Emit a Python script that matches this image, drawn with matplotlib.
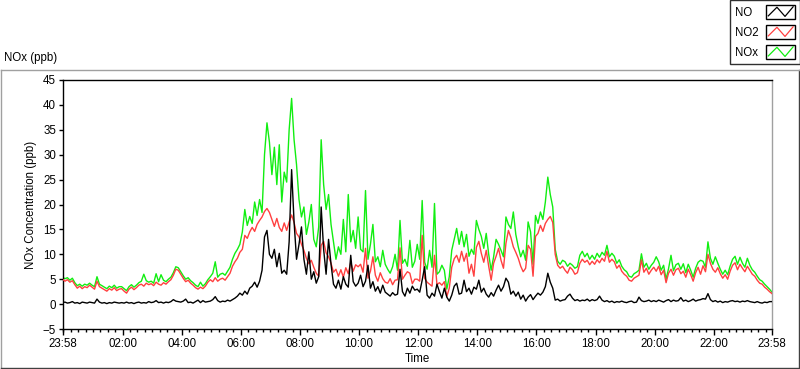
import numpy as np
import pandas as pd
import matplotlib
matplotlib.use("Agg")
import matplotlib.pyplot as plt
import matplotlib.dates as mdates
from matplotlib.lines import Line2D
from matplotlib.patches import Rectangle
from matplotlib.legend_handler import HandlerBase

plt.rcParams['font.family'] = ['Liberation Sans', 'DejaVu Sans']
plt.rcParams['font.size'] = 8.3

# ---------------- data (5-minute readings, starting 23:58) ----------------
start_time = "2020-01-01 23:58"
step = "5min"

no_ppb = [
    0.3, 0.4, 0.2, 0.3, 0.5, 0.2, 0.3, 0.1, 0.4, 0.3, 0.2, 0.4,
    0.3, 0.2, 1.0, 0.4, 0.2, 0.3, 0.1, 0.3, 0.2, 0.4, 0.3, 0.2,
    0.3, 0.2, 0.4, 0.2, 0.3, 0.1, 0.3, 0.4, 0.2, 0.3, 0.2, 0.5,
    0.3, 0.4, 0.7, 0.3, 0.4, 0.2, 0.4, 0.3, 0.5, 0.9, 0.6, 0.5,
    0.4, 0.6, 1.0, 0.3, 0.4, 0.2, 0.5, 0.8, 0.3, 0.7, 0.4, 0.5,
    0.6, 0.9, 1.5, 0.7, 0.4, 0.6, 0.5, 0.8, 0.6, 0.9, 1.2, 1.6,
    2.2, 1.8, 2.6, 2.0, 3.2, 3.6, 4.4, 3.4, 4.6, 6.8, 13.5, 14.8,
    10.0, 9.2, 11.0, 7.5, 10.2, 6.2, 6.8, 6.0, 12.5, 27.0, 16.5, 9.0,
    12.0, 15.5, 9.0, 6.0, 10.5, 5.0, 6.5, 4.2, 5.5, 19.5, 11.0, 6.0,
    13.0, 8.0, 4.0, 3.2, 4.8, 3.0, 5.5, 4.0, 3.4, 9.8, 4.5, 3.6,
    4.2, 5.8, 3.5, 4.6, 7.8, 3.2, 4.5, 2.6, 3.5, 2.2, 3.8, 2.4,
    2.0, 1.6, 2.3, 1.8, 2.0, 7.0, 2.5, 1.6, 3.2, 2.2, 3.6, 2.8,
    3.0, 2.4, 4.8, 7.5, 1.8, 1.2, 2.2, 1.6, 4.0, 2.5, 1.2, 3.2,
    1.4, 0.6, 1.8, 3.6, 4.2, 2.0, 2.2, 4.8, 2.5, 3.2, 2.0, 3.4,
    3.0, 4.8, 2.4, 3.2, 2.0, 1.4, 2.3, 1.6, 2.8, 3.8, 2.6, 3.5,
    5.2, 4.4, 2.0, 2.6, 1.6, 2.4, 1.0, 1.8, 0.6, 1.4, 1.9, 0.9,
    1.6, 2.2, 1.8, 2.4, 3.5, 6.2, 4.4, 3.2, 0.8, 1.0, 0.6, 0.8,
    0.9, 1.6, 2.0, 1.2, 0.7, 0.9, 0.6, 0.8, 0.7, 1.0, 0.6, 0.9,
    0.7, 0.9, 1.6, 0.8, 0.5, 0.7, 0.4, 0.6, 0.3, 0.5, 0.4, 0.6,
    0.4, 0.3, 0.5, 0.6, 0.3, 0.4, 1.4, 0.7, 0.5, 0.6, 0.8, 0.5,
    0.7, 0.5, 0.8, 0.6, 0.4, 0.7, 0.9, 0.5, 0.8, 0.6, 0.7, 1.3,
    0.6, 0.8, 0.5, 0.7, 1.0, 0.6, 0.8, 0.9, 1.1, 1.0, 2.1, 0.9,
    0.5, 0.7, 0.4, 0.6, 0.3, 0.5, 0.4, 0.6, 0.7, 0.5, 0.6, 0.4,
    0.6, 0.5, 0.7, 0.5, 0.4, 0.3, 0.5, 0.3, 0.2, 0.4, 0.3, 0.5,
    0.5,
]

no2_ppb = [
    5.0, 4.6, 4.9, 4.4, 4.7, 3.9, 3.2, 3.6, 3.1, 3.5, 3.3, 3.8,
    3.4, 3.0, 4.6, 3.5, 3.2, 2.9, 2.6, 3.1, 2.8, 3.3, 2.7, 3.0,
    3.1, 2.6, 2.2, 3.0, 3.4, 2.9, 3.3, 3.8, 4.0, 3.6, 4.2, 3.9,
    4.1, 3.7, 4.4, 4.0, 3.8, 4.3, 4.0, 4.5, 4.9, 5.8, 7.0, 6.8,
    6.0, 5.2, 4.5, 4.8, 4.2, 3.8, 3.3, 3.0, 3.4, 3.1, 3.6, 4.4,
    4.9, 4.5, 5.3, 4.6, 5.0, 5.2, 4.8, 5.5, 6.2, 7.6, 8.5, 9.2,
    10.4, 11.0, 13.8, 13.2, 14.5, 15.4, 14.6, 16.0, 16.8, 17.5, 18.6, 19.2,
    18.4, 17.0, 15.6, 17.2, 15.4, 14.6, 16.3, 14.8, 16.5, 17.9, 16.4, 14.2,
    13.5, 12.0, 10.8, 9.2, 8.1, 8.8, 7.4, 6.2, 5.6, 11.8, 12.6, 10.3,
    9.5, 8.2, 6.4, 7.0, 5.6, 6.9, 5.4, 7.3, 6.1, 8.4, 6.6, 7.9,
    7.5, 8.0, 6.4, 11.2, 5.2, 6.6, 9.5, 5.8, 4.6, 6.3, 5.1, 4.4,
    4.2, 5.1, 3.9, 4.8, 4.9, 11.3, 5.0, 5.8, 6.5, 6.2, 4.1, 5.0,
    5.0, 4.6, 13.8, 5.2, 4.4, 4.0, 3.6, 9.8, 3.9, 4.3, 3.8, 4.5,
    1.5, 3.2, 7.4, 9.1, 9.8, 8.4, 10.6, 8.6, 10.2, 6.2, 8.0, 5.6,
    11.4, 12.6, 10.2, 8.4, 10.8, 7.6, 4.8, 8.2, 9.6, 11.2, 8.8, 7.2,
    12.2, 14.8, 13.4, 11.5, 10.4, 9.2, 7.6, 6.5, 7.2, 11.8, 11.0, 5.6,
    13.6, 14.2, 15.8, 14.6, 16.2, 17.0, 17.6, 16.4, 10.0, 7.8, 7.2, 7.6,
    6.8, 6.2, 7.4, 6.9, 6.0, 6.3, 8.2, 9.0, 8.4, 8.8, 7.9, 8.6,
    8.0, 8.9, 8.3, 9.2, 8.6, 10.6, 8.4, 9.0, 8.5, 7.2, 7.8, 6.6,
    6.0, 5.6, 4.8, 4.6, 5.2, 5.5, 5.8, 8.9, 6.4, 7.2, 6.0, 6.8,
    7.4, 6.6, 7.6, 5.9, 6.8, 4.3, 6.2, 7.0, 5.8, 6.9, 7.2, 6.1,
    6.6, 5.4, 7.0, 5.9, 4.6, 6.3, 7.4, 6.0, 7.7, 6.5, 10.0, 8.2,
    7.0, 6.4, 7.3, 6.1, 5.2, 5.9, 5.0, 6.6, 7.8, 8.3, 6.9, 8.0,
    7.2, 6.5, 7.6, 6.8, 6.0, 5.6, 4.8, 4.2, 4.0, 3.4, 3.0, 2.5,
    2.1,
]

nox_ppb = [
    5.4, 5.1, 5.3, 4.8, 5.2, 4.3, 3.7, 4.0, 3.6, 4.0, 3.8, 4.2,
    3.8, 3.5, 5.5, 4.0, 3.7, 3.4, 3.1, 3.6, 3.3, 3.8, 3.2, 3.5,
    3.5, 3.1, 2.7, 3.5, 3.9, 3.4, 3.8, 4.3, 4.6, 6.0, 4.7, 4.4,
    4.6, 4.2, 6.1, 4.5, 5.9, 4.8, 4.5, 5.0, 5.4, 6.3, 7.5, 7.3,
    6.5, 5.7, 5.0, 5.3, 4.7, 4.3, 3.8, 3.5, 4.4, 3.6, 4.1, 4.9,
    5.5, 6.2, 8.5, 5.4, 6.0, 6.2, 5.8, 6.6, 7.4, 9.0, 10.2, 11.0,
    12.0, 14.5, 19.0, 15.8, 17.6, 16.2, 20.5, 17.8, 21.0, 18.4, 30.0, 36.4,
    32.5, 26.0, 31.5, 24.0, 32.0, 20.5, 26.5, 24.5, 35.0, 41.3, 33.0, 28.0,
    21.0, 17.5, 19.5, 14.0, 16.5, 20.0, 13.0, 11.5, 15.5, 33.0, 24.0, 19.0,
    22.0, 16.0, 12.5, 9.0, 11.5, 10.0, 17.0, 10.5, 22.0, 12.5, 14.8, 11.2,
    17.5, 11.0, 10.5, 22.8, 9.0, 12.0, 16.0, 8.5, 9.5, 7.5, 10.8, 8.0,
    7.0, 6.2, 7.5, 10.0, 6.8, 16.8, 8.2, 9.0, 7.6, 12.8, 7.4, 8.6,
    12.0, 9.0, 20.8, 8.4, 7.0, 10.8, 7.4, 20.2, 6.0, 6.5, 7.8, 6.8,
    3.0, 5.5, 10.8, 13.0, 15.2, 12.0, 14.6, 11.5, 14.0, 9.6, 11.0, 10.0,
    16.8, 15.0, 13.6, 11.2, 14.2, 10.0, 6.8, 9.5, 13.0, 12.0, 10.8, 9.5,
    17.5, 16.0, 15.2, 18.5, 14.0, 11.5, 9.5, 10.8, 8.8, 16.5, 14.5, 8.0,
    17.8, 16.2, 18.5, 17.0, 20.5, 25.5, 22.0, 19.5, 11.0, 8.6, 8.0, 8.8,
    8.5, 7.6, 8.2, 7.8, 7.2, 7.5, 9.8, 10.6, 9.5, 10.2, 9.0, 9.8,
    9.0, 10.2, 9.4, 10.4, 9.8, 11.8, 9.5, 10.2, 9.6, 8.2, 8.9, 7.6,
    6.9, 6.5, 5.6, 5.4, 6.1, 6.4, 6.8, 10.1, 7.4, 8.2, 7.0, 7.8,
    8.4, 9.5, 8.5, 6.8, 7.8, 5.0, 7.1, 9.8, 6.7, 7.9, 8.2, 7.0,
    8.1, 6.3, 8.0, 6.8, 5.4, 7.2, 8.4, 8.8, 8.6, 7.4, 12.5, 9.2,
    8.0, 9.5, 8.2, 7.0, 6.0, 6.8, 5.9, 7.6, 9.0, 9.6, 8.0, 9.4,
    8.2, 7.4, 9.2, 7.8, 6.9, 6.4, 5.6, 4.9, 4.6, 4.0, 3.5, 3.0,
    2.4,
]

series_names = ["NO", "NO2", "NOx"]
series_colors = ["#000000", "#ff4040", "#11ee11"]
y_ticks = [-5, 0, 5, 10, 15, 20, 25, 30, 35, 40, 45]

times = pd.date_range(start_time, periods=len(no_ppb), freq=step)


# ---------------- legend glyph: zigzag in a box ----------------
class ZigzagHandler(HandlerBase):
    def create_artists(self, legend, orig_handle, xdescent, ydescent,
                       width, height, fontsize, trans):
        box = Rectangle((-xdescent, -ydescent), width, height,
                        facecolor="white", edgecolor="black", lw=1.0,
                        transform=trans)
        fx = np.array([0.08, 0.38, 0.66, 0.94])
        fy = np.array([0.22, 0.85, 0.18, 0.88])
        zz = Line2D(fx * width - xdescent, fy * height - ydescent,
                    color=orig_handle.get_color(), lw=0.9, transform=trans)
        return [box, zz]


W, H = 800, 369
fig = plt.figure(figsize=(W / 100, H / 100), dpi=100)
fig.patch.set_facecolor("white")

# outer panel frame
frame = fig.add_axes([0.6 / W, 1.2 / H, 798.6 / W, (H - 69.5 - 1.2) / H])
frame.set_xticks([])
frame.set_yticks([])
frame.set_facecolor("white")
frame.spines["top"].set_color("#a0a0a0")
frame.spines["left"].set_color("#a0a0a0")
frame.spines["bottom"].set_color("#404040")
frame.spines["right"].set_color("#404040")
for s in frame.spines.values():
    s.set_linewidth(1.0)
frame.set_zorder(0)

# main plot
ax = fig.add_axes([62.5 / W, (H - 329) / H, (772 - 62.5) / W, (329 - 80) / H])
ax.set_zorder(1)
ax.set_facecolor("white")

ax.plot(times, nox_ppb, color=series_colors[2], lw=1.0, label=series_names[2], zorder=2)
ax.plot(times, no2_ppb, color=series_colors[1], lw=1.0, label=series_names[1], zorder=3)
ax.plot(times, no_ppb, color=series_colors[0], lw=1.0, label=series_names[0], zorder=4)

ax.set_xlim(times[0], times[-1])
ax.set_ylim(-5, 45)
ax.set_yticks(y_ticks)

inner_majors = [t for t in pd.date_range(times[0].ceil("2h"), times[-1], freq="2h")
                if t.hour % 2 == 0 and (t - times[0]) > pd.Timedelta("1h")
                and (times[-1] - t) > pd.Timedelta("1h")]
major_times = [times[0]] + inner_majors + [times[-1]]
ax.set_xticks(major_times)
ax.xaxis.set_major_formatter(mdates.DateFormatter("%H:%M"))
ax.xaxis.set_minor_locator(mdates.MinuteLocator(byminute=[0, 15, 30, 45]))

ax.tick_params(axis="y", which="major", direction="out", length=3.2, width=1.0,
               pad=1.5, labelsize=8.3, colors="black")
ax.tick_params(axis="x", which="major", direction="out", length=4.0, width=1.0,
               pad=2.5, labelsize=8.3, colors="black")
ax.tick_params(axis="x", which="minor", direction="out", length=2.3, width=1.0)

for side in ["left", "bottom", "top"]:
    ax.spines[side].set_color("black")
    ax.spines[side].set_linewidth(1.0)
ax.spines["right"].set_color("#a0a0a0")
ax.spines["right"].set_linewidth(1.0)

ax.set_xlabel("Time", fontsize=8.3, labelpad=2)
ax.set_ylabel("NOx Concentration (ppb)", fontsize=8.3, labelpad=4)

fig.text(4 / W, 1 - 58 / H, "NOx (ppb)", fontsize=8.3, ha="left", va="center")

handles = [Line2D([], [], color=c) for c in series_colors]
leg = fig.legend(handles, series_names, loc="upper right", bbox_to_anchor=(1.0, 1.0),
                 borderaxespad=0.0, markerfirst=False, frameon=True, fancybox=False,
                 handler_map={Line2D: ZigzagHandler()},
                 handlelength=2.5, handleheight=1.45, handletextpad=0.6,
                 borderpad=0.45, labelspacing=0.55, fontsize=8.3)
leg.get_frame().set_edgecolor("#303030")
leg.get_frame().set_linewidth(1.0)
leg.get_frame().set_alpha(1.0)
leg.set_zorder(5)

# left-align the legend labels (as in the reference)
fig.canvas.draw()
renderer = fig.canvas.get_renderer()
texts = leg.get_texts()
left_x = min(t.get_window_extent(renderer).x0 for t in texts)
for t in texts:
    bb = t.get_window_extent(renderer)
    dx = left_x - bb.x0
    if abs(dx) > 0.1:
        x, y = t.get_position()
        t.set_x(x + dx)

fig.savefig("out.png", dpi=100)
